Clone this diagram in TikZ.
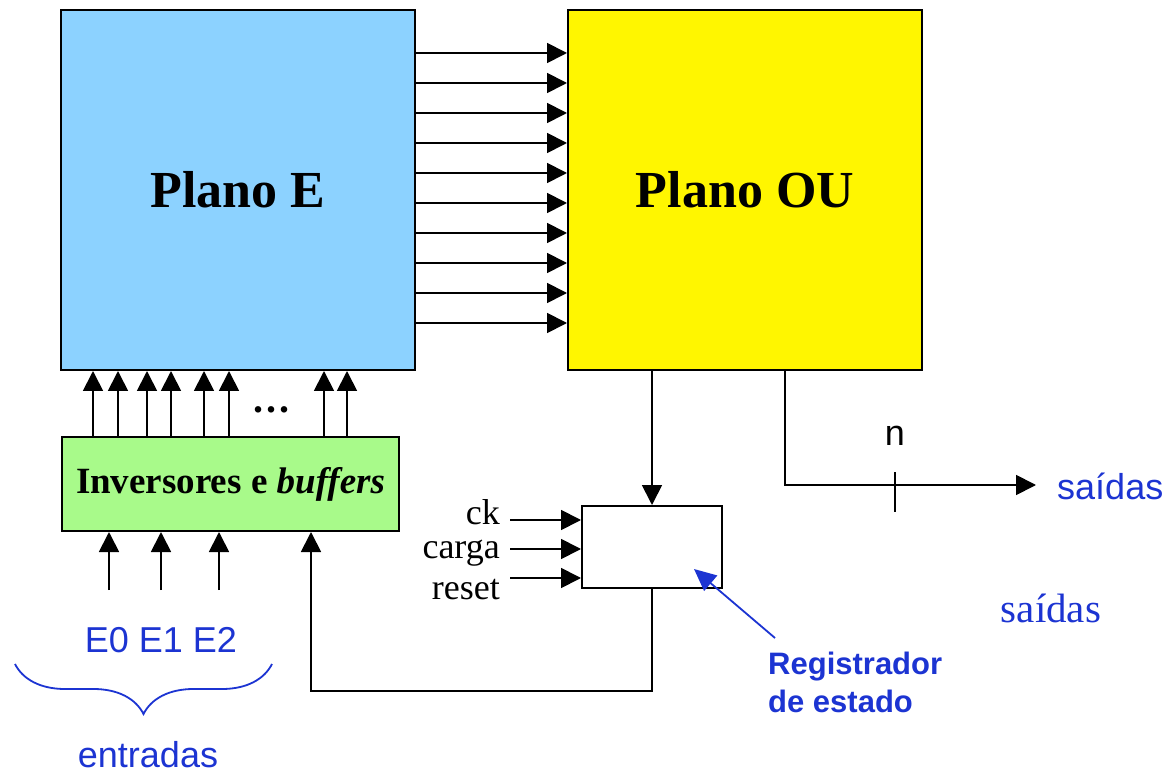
\documentclass[tikz,border=0pt]{standalone}
\usepackage{fontspec}
\setmainfont{Liberation Serif}
\setsansfont{Liberation Sans}
\usetikzlibrary{arrows.meta,decorations.pathreplacing}

\definecolor{planoEblue}{RGB}{140,210,255}
\definecolor{planoOUyellow}{RGB}{255,246,0}
\definecolor{invgreen}{RGB}{168,250,138}
\definecolor{lblblue}{RGB}{28,52,210}

\tikzset{
    plane/.style={draw,line width=2pt,minimum width=354pt,minimum height=360pt,
        font=\fontsize{52}{60}\selectfont\bfseries},
    block/.style={draw,line width=2pt},
    sig/.style={->,line width=1.8pt},
    bluetext/.style={text=lblblue,font=\sffamily\fontsize{36}{42}\selectfont},
    ctrltext/.style={anchor=base east,inner xsep=10pt,inner ysep=0pt,
        font=\fontsize{36}{40}\selectfont},
}

\begin{document}
\begin{tikzpicture}[x=1pt,y=-1pt,>={Triangle[length=20pt,width=20pt]}]
        \useasboundingbox (0,0) rectangle (1170,775);

        % planos
        \node[plane,fill=planoEblue] (planoE) at (238,190) {Plano E};
        \node[plane,fill=planoOUyellow] (planoOU) at (745,190) {Plano OU};
        \foreach \y in {53,83,...,323}
            \draw[sig] (planoE.east |- 0,\y) -- (planoOU.west |- 0,\y);

        % inversores e buffers
        \node[block,fill=invgreen,minimum width=337pt,minimum height=94pt,
            font=\fontsize{37}{42}\selectfont\bfseries] (inv) at (230.5,484)
            {Inversores e \textit{buffers}};
        \foreach \x in {93,118,147,171,204,229,324,347}
            \draw[sig] (inv.north -| \x,0) -- (planoE.south -| \x,0);
        \node[font=\fontsize{40}{44}\selectfont\bfseries] (dots) at (271,410)
            {.\hspace{3pt}.\hspace{3pt}.};

        % entradas
        \foreach \x in {109,161,219}
            \draw[sig] (\x,590) -- (inv.south -| \x,0);
        \node[bluetext] (ent) at (161,640) {E0 E1 E2};
        \draw[lblblue,line width=1.8pt,decorate,
            decoration={brace,mirror,amplitude=50pt}] (15,664) -- (272,664);
        \node[bluetext,inner sep=0pt] (entradas) at (148,755) {entradas};

        % registrador de estado
        \node[block,minimum width=140pt,minimum height=82pt] (reg) at (652,547) {};
        \draw[sig] (planoOU.south -| reg.north) -- (reg.north);
        \node[ctrltext] (ck) at (510,524) {ck};
        \node[ctrltext] (carga) at (510,558) {carga};
        \node[ctrltext] (reset) at (510,599) {reset};
        \draw[sig] (ck.east |- 0,520) -- (reg.west |- 0,520);
        \draw[sig] (carga.east |- 0,549) -- (reg.west |- 0,549);
        \draw[sig] (reset.east |- 0,578) -- (reg.west |- 0,578);
        \draw[sig] (reg.south) -- ++(0,102) -| (inv.south -| 311,0);

        % saidas
        \coordinate (outEnd) at (1036,485);
        \draw[sig] (planoOU.south -| 785,0) |- (outEnd);
        \draw[line width=1.8pt] (895,472) -- (895,512);
        \node[font=\sffamily\fontsize{36}{42}\selectfont] (n) at (895,436) {n};
        \node[bluetext,anchor=west,inner sep=0pt] (saidasA) at (1057,486) {saídas};
        \node[text=lblblue,font=\fontsize{41}{48}\selectfont] (saidasB) at (1051,608) {saídas};

        \node[text=lblblue,font=\sffamily\bfseries\fontsize{31}{38}\selectfont,
            align=left,anchor=north west,inner sep=0pt] (regLabel) at (768,652)
            {Registrador\\de estado};
        \draw[->,lblblue,line width=1.8pt,>={Triangle[length=22pt,width=20pt]}]
            ([shift={(7,-14)}]regLabel.north west) -- ([shift={(-29,-20)}]reg.south east);

    \end{tikzpicture}
\end{document}
